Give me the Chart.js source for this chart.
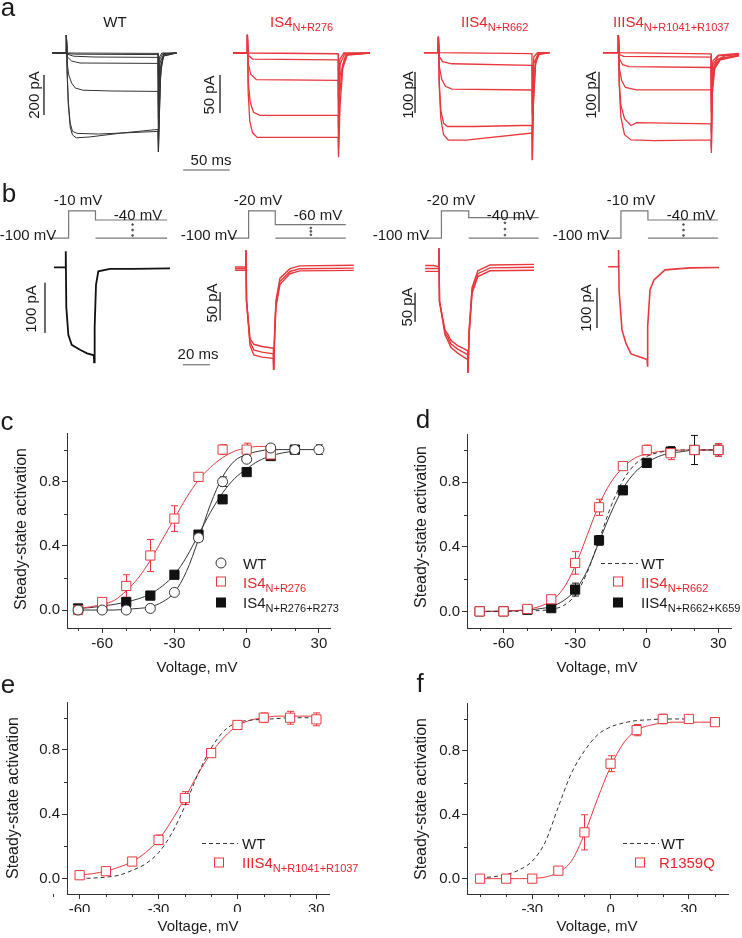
<!DOCTYPE html>
<html>
<head>
<meta charset="utf-8">
<script src="https://cdn.jsdelivr.net/npm/chart.js@4.4.1/dist/chart.umd.min.js"></script>
<style>
body { margin: 0; background: #fff; }
#fig { position: relative; width: 742px; height: 938px; overflow: hidden; font-family: 'Liberation Sans', Arial, sans-serif; }
#fig canvas { position: absolute; }
.t { position: absolute; white-space: nowrap; line-height: 1; }
.t sub { font-size: 11px; vertical-align: baseline; position: relative; top: 4px; }
svg { position: absolute; left: 0; top: 0; }
</style>
</head>
<body>
<div id="fig"></div>
<script>
// ---------- panel a: current traces, [ms, pA] ----------
const aWT = [
  [[-15,0],[0,0],[0.4,90],[1.2,0],[99,-2],[99.4,-120],[100.5,-20],[103,0],[119,0]],
  [[-15,0],[0,0],[0.4,90],[1.2,-3],[10,-6],[99,-8],[99.4,-200],[101,-30],[104,-3],[119,0]],
  [[-15,0],[0,0],[0.4,90],[1.2,-5],[8,-16],[30,-20],[99,-22],[99.4,-260],[101,-50],[105,-5],[119,0]],
  [[-15,0],[0,0],[0.4,90],[1.5,-20],[6,-40],[15,-50],[99,-52],[99.4,-330],[101,-80],[105,-8],[119,0]],
  [[-15,0],[0,0],[0.4,90],[1.5,-60],[3,-110],[6,-150],[10,-175],[18,-186],[50,-190],[99,-192],[99.4,-440],[101,-150],[104,-20],[108,-3],[119,0]],
  [[-15,0],[0,0],[0.4,90],[1.2,-100],[2.5,-260],[4.5,-370],[7,-410],[11,-424],[25,-420],[60,-400],[99,-382],[99.4,-495],[100.5,-300],[102,-80],[105,-15],[119,0]],
  [[-15,0],[0,0],[0.4,90],[1.2,-90],[2.5,-240],[4.5,-350],[7,-392],[12,-402],[35,-405],[70,-398],[99,-392],[99.4,-495],[100.5,-300],[102,-80],[105,-15],[119,0]]
];
const aIS4 = [
  [[-15,0],[0,0],[0.4,24],[1.2,0],[98,-1],[98.4,-60],[100,-8],[104,0],[132,0]],
  [[-15,0],[0,0],[0.4,24],[1.2,-3],[6,-8],[98,-9],[98.4,-80],[100,-15],[105,-1],[132,0]],
  [[-15,0],[0,0],[0.4,24],[1.5,-15],[4,-28],[10,-35],[98,-36],[98.4,-100],[100,-30],[106,-3],[132,0]],
  [[-15,0],[0,0],[0.4,24],[1.5,-40],[3.5,-65],[7,-78],[14,-82],[98,-82],[98.4,-125],[100,-50],[103,-15],[107,-2],[132,0]],
  [[-15,0],[0,0],[0.4,24],[1.2,-50],[3,-90],[6,-105],[11,-111],[98,-111],[98.4,-137],[100,-70],[103,-20],[108,-2],[132,0]]
];
const aIIS4 = [
  [[-15,0],[0,0],[0.4,39],[1.2,0],[101,-2],[101.4,-100],[103,-10],[107,0],[120,0]],
  [[-15,0],[0,0],[0.4,39],[1.5,-10],[5,-22],[15,-27],[101,-31],[101.4,-150],[103,-25],[108,-2],[120,0]],
  [[-15,0],[0,0],[0.4,39],[1.5,-35],[4,-65],[8,-82],[15,-89],[101,-91],[101.4,-200],[103,-50],[107,-5],[120,0]],
  [[-15,0],[0,0],[0.4,39],[1.3,-70],[3,-140],[6,-172],[10,-180],[40,-180],[101,-177],[101.4,-261],[102.5,-120],[105,-20],[109,-2],[120,0]],
  [[-15,0],[0,0],[0.4,39],[1.3,-80],[3,-160],[6,-200],[11,-213],[30,-213],[101,-196],[101.4,-262],[102.5,-130],[105,-25],[109,-2],[120,0]]
];
const aIIIS4 = [
  [[-16,0],[0,0],[0.4,44],[1.2,0],[100,-3],[100.4,-90],[102,-20],[108,-6],[130,-2]],
  [[-16,0],[0,0],[0.4,44],[1.2,-4],[6,-9],[100,-11],[100.4,-110],[102,-30],[108,-8],[130,-3]],
  [[-16,0],[0,0],[0.4,44],[1.5,-15],[5,-30],[12,-35],[100,-37],[100.4,-150],[102,-45],[106,-18],[115,-8],[130,-4]],
  [[-16,0],[0,0],[0.4,44],[1.5,-40],[4,-70],[8,-87],[20,-93],[100,-93],[100.4,-200],[101.5,-70],[104,-30],[110,-14],[130,-6]],
  [[-16,0],[0,0],[0.4,44],[1.3,-70],[3,-130],[7,-165],[14,-182],[20,-175],[100,-178],[100.4,-240],[101.5,-90],[104,-35],[110,-16],[130,-7]],
  [[-16,0],[0,0],[0.4,44],[1.3,-80],[3,-160],[7,-205],[14,-218],[40,-220],[100,-218],[100.4,-251],[101.5,-100],[104,-40],[110,-18],[130,-8]]
];
// scale bars [ms, pA]
const aBarWT = [[-23.7,-110],[-23.7,-310]];
const aBarIS4 = [[-29,-29],[-29,-79]];
const aBarIIS4 = [[-24.7,-47],[-24.7,-147]];
const aBarIIIS4 = [[-20.4,-48],[-20.4,-148]];
const aTimeBar = [[126,-585],[176,-585]];

// ---------- panel b: protocols [ms, mV] and currents [ms, pA] ----------
const protoWT = [[-15,-100],[0,-100],[0,-10],[21,-10],[21,-40],[77,-40]];
const protoIS4 = [[-15,-100],[0,-100],[0,-20],[21,-20],[21,-60],[76.5,-60]];
const protoIIS4 = [[-15,-100],[0,-100],[0,-20],[21.5,-20],[21.5,-40],[76.5,-40]];
const protoIIIS4 = [[-15,-100],[0,-100],[0,-10],[21.3,-10],[21.3,-40],[76.5,-40]];
const protoLowWT = [[21,-100],[77,-100]];
const protoLowIS4 = [[21,-100],[76.5,-100]];
const protoLowIIS4 = [[21.5,-100],[76.5,-100]];
const protoLowIIIS4 = [[21.3,-100],[76.5,-100]];
const dotsWT = [[50,-55],[50,-73],[50,-91]];
const dotsIS4 = [[49,-70],[49,-80],[49,-90]];
const dotsIIS4 = [[50,-55],[50,-73],[50,-91]];
const dotsIIIS4 = [[49.4,-55],[49.4,-73],[49.4,-91]];

const bWT = [[[-8.5,0],[0,0],[0.2,32],[0.6,-80],[2.1,-135],[4.6,-155],[10.7,-165],[16,-172],[21,-176],[21.2,-190],[21.6,-120],[22.6,-35],[24.3,-8],[33,-3],[50,-3],[77.4,-2]]];
const bIS4 = [
  [[-8,0],[0,0],[0.2,30],[0.6,-60],[3.2,-128],[6,-138],[12,-142],[20.5,-145],[20.7,-184],[21.5,-110],[22.4,-60],[25.4,-20],[32.8,-3],[40,2],[80,3]],
  [[-8,-3],[0,-3],[0.2,30],[0.6,-60],[3.2,-134],[6,-148],[12,-152],[20.5,-155],[20.7,-184],[21.5,-115],[22.4,-66],[25.4,-26],[32.8,-8],[40,-3],[80,-2]],
  [[-8,-6],[0,-6],[0.2,30],[0.6,-60],[3.2,-140],[6,-157],[12,-161],[20.5,-163],[20.7,-184],[21.5,-120],[22.4,-72],[25.4,-31],[32.8,-12],[40,-7],[80,-6]]
];
const bIIS4 = [
  [[-10,2],[-4,2],[0,0],[0.2,32],[0.6,-60],[4.7,-110],[6.7,-116],[9,-127],[14,-136],[20,-143],[21.5,-145],[21.7,-183],[22.5,-110],[24.7,-36],[29,-7],[38,3],[70.6,4]],
  [[-10,-3],[-4,-3],[0,-3],[0.2,32],[0.6,-60],[4.7,-114],[6.7,-121],[9,-133],[14,-142],[20,-150],[21.5,-152],[21.7,-183],[22.5,-115],[24.7,-41],[29,-12],[38,-2],[70.6,-1]],
  [[-10,-8],[-4,-8],[0,-8],[0.2,32],[0.6,-60],[4.7,-118],[6.7,-127],[9,-139],[14,-149],[20,-158],[21.5,-160],[21.7,-183],[22.5,-120],[24.7,-46],[29,-17],[38,-7],[70.6,-6]]
];
const bIIIS4 = [[[-7.5,0],[0,0],[0.2,42],[0.6,-60],[2.7,-158],[5.7,-192],[9.4,-218],[16,-226],[21.3,-232],[21.5,-250],[22,-150],[23.5,-58],[26.4,-33],[34.6,-8],[53,-3],[74.6,-2]]];
const bBarWT = [[-15.2,-31],[-15.2,-131]];
const bBarIS4 = [[-18.9,-45],[-18.9,-95]];
const bBarIIS4 = [[-17.5,-45],[-17.5,-95]];
const bBarIIIS4 = [[-15.8,-53],[-15.8,-153]];
const bTimeBar = [[87,-195],[107,-195]];

// ---------- panels c-f: steady-state activation ----------
const cVolt = [-70,-60,-50,-40,-30,-20,-10,0,10,20,30];
const cWT = [0.0,0.0,0.0,0.01,0.11,0.45,0.80,0.94,1.01,1.0,1.0];
const cWTErr = [0.01,0.01,0.01,0.01,0.02,0.02,0.03,0.02,0.02,0.02,0.03];
const cR276 = [0.0,0.05,0.15,0.34,0.57,0.83,1.0,1.0,0.97];
const cR276Err = [0.01,0.02,0.07,0.10,0.08,0.02,0.03,0.04,0.03];
const cR273 = [0.01,0.02,0.05,0.09,0.22,0.47,0.69,0.86,0.96,1.0];
const cR273Err = [0.01,0.01,0.01,0.01,0.01,0.02,0.02,0.01,0.02,0.02];
const cFitV = [-70,-65,-60,-55,-50,-45,-40,-35,-30,-25,-20,-15,-10,-5,0,5,10,15,20,25,30];
const cFitWT = [0.0,0.0,0.0,0.0,0.005,0.01,0.02,0.05,0.11,0.24,0.44,0.66,0.83,0.93,0.97,0.99,1.0,1.0,1.0,1.0,1.0];
const cFitR276 = [0.01,0.02,0.035,0.06,0.12,0.20,0.31,0.44,0.57,0.70,0.81,0.89,0.95,0.99,1.01,1.02,1.02];
const cFitR273 = [0.01,0.015,0.025,0.035,0.05,0.07,0.10,0.15,0.22,0.33,0.47,0.61,0.73,0.82,0.88,0.93,0.96,0.98,0.99];

const dVolt = [-70,-60,-50,-40,-30,-20,-10,0,10,20,30];
const dR662 = [0.0,0.0,0.015,0.075,0.30,0.645,0.90,1.0,0.98,1.0,1.0];
const dR662Err = [0.01,0.01,0.01,0.02,0.07,0.05,0.02,0.03,0.04,0.02,0.04];
const dK659 = [0.0,0.0,0.01,0.02,0.135,0.44,0.75,0.92,0.99,1.0,1.0];
const dK659Err = [0.01,0.01,0.01,0.02,0.04,0.03,0.02,0.02,0.03,0.09,0.03];
const dFitV = [-70,-65,-60,-55,-50,-45,-40,-35,-30,-25,-20,-15,-10,-5,0,5,10,15,20,25,30];
const dFitWT = [0.0,0.0,0.0,0.0,0.002,0.005,0.012,0.035,0.10,0.24,0.44,0.65,0.81,0.91,0.96,0.985,0.995,1.0,1.0,1.0,1.0];
const dFitK659 = [0.0,0.0,0.002,0.004,0.008,0.016,0.03,0.065,0.13,0.25,0.43,0.61,0.76,0.86,0.92,0.96,0.98,0.99,1.0,1.0,1.0];
const dFitR662 = [0.0,0.0,0.002,0.005,0.012,0.03,0.065,0.14,0.28,0.47,0.66,0.80,0.89,0.95,0.975,0.99,0.995,1.0,1.0,1.0,1.0];

const eVolt = [-60,-50,-40,-30,-20,-10,0,10,20,30];
const eR1037 = [0.02,0.045,0.105,0.24,0.50,0.78,0.955,1.0,1.0,0.99];
const eR1037Err = [0.01,0.01,0.01,0.03,0.04,0.02,0.01,0.03,0.04,0.04];
const eFitV = [-60,-55,-50,-45,-40,-35,-30,-25,-20,-15,-10,-5,0,5,10,15,20,25,30];
const eFitR = [0.02,0.03,0.045,0.07,0.105,0.16,0.24,0.36,0.50,0.65,0.78,0.88,0.95,0.985,1.0,1.01,1.01,1.01,1.01];
const eFitWT = [0.0,0.002,0.008,0.02,0.05,0.09,0.16,0.28,0.45,0.65,0.81,0.92,0.97,0.985,0.99,0.995,1.0,1.0,1.0];

const fVolt = [-50,-40,-30,-20,-10,0,10,20,30,40];
const fR1359Q = [0.0,0.0,0.0,0.05,0.29,0.72,0.93,1.0,1.0,0.98];
const fR1359QErr = [0.01,0.01,0.01,0.01,0.11,0.05,0.035,0.03,0.02,0.02];
const fFitV = [-50,-45,-40,-35,-30,-25,-20,-15,-10,-5,0,5,10,15,20,25,30,35,40];
const fFitR = [0.0,0.0,0.0,0.0,0.002,0.01,0.04,0.11,0.28,0.50,0.70,0.85,0.93,0.96,0.975,0.98,0.98,0.98,0.98];
const fFitWT = [0.005,0.012,0.025,0.055,0.11,0.23,0.45,0.66,0.80,0.90,0.95,0.975,0.99,0.995,1.0,1.0,1.0];

const xMinorCDE = [-70,-50,-40,-20,-10,10,20];
const xMinorF = [-50,-40,-20,-10,10,20,40];
const yMinor = [0.2,0.6,1.0];

// ---------- drawing ----------
const FONT = "'Liberation Sans', Arial, sans-serif";
const RED = '#e8383d', REDTXT = '#e8262d', INK = '#1a1a1a', AX = '#333';
const fig = document.getElementById('fig');

function canvasAt(l, t, w, h) {
  const c = document.createElement('canvas');
  c.width = w; c.height = h;
  c.style.left = l + 'px'; c.style.top = t + 'px';
  fig.appendChild(c);
  return c;
}

function txt(html, x, y, o = {}) {
  const d = document.createElement('div');
  d.className = 't';
  d.innerHTML = html;
  d.style.left = x + 'px';
  d.style.top = y + 'px';
  d.style.fontSize = (o.size || 15) + 'px';
  d.style.color = o.color || INK;
  d.style.transform = 'translate(' + (o.left ? '0' : '-50%') + ',-50%)' + (o.rot ? ' rotate(-90deg)' : '');
  fig.appendChild(d);
}

const xy = arr => arr.map(p => ({ x: p[0], y: p[1] }));
const pts = (xs, ys) => ys.map((v, i) => ({ x: xs[i], y: v }));

// box: [left, top, width, height]; map: t/v reference value + pixel, px per unit
function traceChart(box, map, sets) {
  const [L, T, W, H] = box;
  new Chart(canvasAt(L, T, W, H), {
    type: 'scatter',
    data: {
      datasets: sets.map(s => ({
        data: xy(s.pts), showLine: !s.dots, borderColor: s.color, backgroundColor: s.color,
        borderWidth: s.w || 1, pointRadius: s.dots ? 0.9 : 0, tension: 0
      }))
    },
    options: {
      responsive: false, animation: false, events: [],
      layout: { padding: 0 },
      plugins: { legend: { display: false }, tooltip: { enabled: false } },
      scales: {
        x: { type: 'linear', display: false, min: map.t[0] + (L - map.t[1]) / map.sx, max: map.t[0] + (L + W - map.t[1]) / map.sx },
        y: { type: 'linear', display: false, min: map.v[0] + (map.v[1] - T - H) / map.sy, max: map.v[0] + (map.v[1] - T) / map.sy }
      }
    }
  });
}

const traces = (list, color, w) => list.map(p => ({ pts: p, color, w }));

// panel a
traceChart([20, 25, 220, 155], { t: [0, 66], v: [0, 53], sx: 0.93, sy: 0.2 },
  [...traces(aWT, '#333', 1), { pts: aBarWT, color: '#555' }, { pts: aTimeBar, color: '#555' }]);
traceChart([200, 25, 180, 140], { t: [0, 247], v: [0, 53], sx: 0.93, sy: 0.76 },
  [...traces(aIS4, RED, 1.3), { pts: aBarIS4, color: '#555' }]);
traceChart([400, 25, 160, 140], { t: [0, 438], v: [0, 52.7], sx: 0.93, sy: 0.41 },
  [...traces(aIIS4, RED, 1.3), { pts: aBarIIS4, color: '#555' }]);
traceChart([580, 25, 162, 140], { t: [0, 618], v: [0, 52.7], sx: 0.93, sy: 0.4 },
  [...traces(aIIIS4, RED, 1.3), { pts: aBarIIIS4, color: '#555' }]);

// panel b protocols
const proto = (p, low, dots) => [
  { pts: p, color: '#777', w: 1.2 }, { pts: low, color: '#777', w: 1.2 }, { pts: dots, color: '#555', dots: true }
];
traceChart([30, 195, 190, 55], { t: [0, 65.5], v: [-100, 241.7], sx: 1.35, sy: 0.371 }, proto(protoWT, protoLowWT, dotsWT));
traceChart([210, 195, 170, 55], { t: [0, 245.7], v: [-100, 241.7], sx: 1.35, sy: 0.4175 }, proto(protoIS4, protoLowIS4, dotsIS4));
traceChart([400, 195, 170, 55], { t: [0, 438.7], v: [-100, 241.7], sx: 1.35, sy: 0.4175 }, proto(protoIIS4, protoLowIIS4, dotsIIS4));
traceChart([580, 195, 162, 55], { t: [0, 618.3], v: [-100, 241.7], sx: 1.35, sy: 0.371 }, proto(protoIIIS4, protoLowIIIS4, dotsIIIS4));

// panel b currents
traceChart([30, 240, 190, 135], { t: [0, 65.5], v: [0, 267.3], sx: 1.35, sy: 0.5 },
  [...traces(bWT, '#111', 1.8), { pts: bBarWT, color: '#555' }, { pts: bTimeBar, color: '#555' }]);
traceChart([200, 240, 160, 140], { t: [0, 245.7], v: [0, 267], sx: 1.35, sy: 0.56 },
  [...traces(bIS4, RED, 1.4), { pts: bBarIS4, color: '#555' }]);
traceChart([400, 240, 150, 140], { t: [0, 438.7], v: [0, 266.7], sx: 1.35, sy: 0.58 },
  [...traces(bIIS4, RED, 1.4), { pts: bBarIIS4, color: '#555' }]);
traceChart([580, 240, 160, 140], { t: [0, 618.3], v: [0, 266.7], sx: 1.35, sy: 0.4 },
  [...traces(bIIIS4, RED, 1.6), { pts: bBarIIIS4, color: '#555' }]);

// activation plots
const errorBars = {
  id: 'errorBars',
  beforeDatasetsDraw(chart) {
    const { ctx, scales: { y } } = chart;
    chart.data.datasets.forEach((ds, i) => {
      if (!ds.err) return;
      const meta = chart.getDatasetMeta(i);
      ctx.save();
      ctx.strokeStyle = ds.borderColor;
      ctx.lineWidth = 1;
      ctx.beginPath();
      meta.data.forEach((pt, j) => {
        const v = ds.data[j].y, e = ds.err[j];
        const y1 = y.getPixelForValue(v + e), y2 = y.getPixelForValue(v - e);
        const x = Math.round(pt.x) + 0.5;
        ctx.moveTo(x, y1); ctx.lineTo(x, y2);
        ctx.moveTo(x - 3.5, y1); ctx.lineTo(x + 3.5, y1);
        ctx.moveTo(x - 3.5, y2); ctx.lineTo(x + 3.5, y2);
      });
      ctx.stroke();
      ctx.restore();
    });
  }
};
const minorTicks = {
  id: 'minorTicks',
  afterDraw(chart, args, opts) {
    const { ctx, chartArea: a, scales: { x, y } } = chart;
    ctx.save();
    ctx.strokeStyle = AX; ctx.lineWidth = 1;
    ctx.beginPath();
    (opts.x || []).forEach(v => { const p = Math.round(x.getPixelForValue(v)) + 0.5; ctx.moveTo(p, a.bottom); ctx.lineTo(p, a.bottom + 3); });
    (opts.y || []).forEach(v => { const p = Math.round(y.getPixelForValue(v)) + 0.5; ctx.moveTo(a.left, p); ctx.lineTo(a.left - 3, p); });
    ctx.stroke();
    ctx.restore();
  }
};

const markers = (xs, ys, err, style, color, fill, r) => ({
  data: pts(xs, ys), err, showLine: false, pointStyle: style, pointRadius: r,
  borderColor: color, backgroundColor: fill, borderWidth: 1, order: 1
});
const fit = (xs, ys, color, dash) => ({
  data: pts(xs, ys), showLine: true, pointRadius: 0, borderColor: color, borderWidth: 1,
  borderDash: dash || [], cubicInterpolationMode: 'monotone', order: 2
});

function actChart(box, area, xr, yr, xMinor, sets) {
  const [L, T, W, H] = box;
  const axis = {
    grid: { drawOnChartArea: false, drawTicks: true, tickLength: 5, tickColor: AX, color: AX },
    border: { display: true, color: AX, width: 1 }
  };
  new Chart(canvasAt(L, T, W, H), {
    type: 'scatter',
    data: { datasets: sets },
    options: {
      responsive: false, animation: false, events: [],
      layout: { padding: { left: 0, top: area[1] - T, right: L + W - area[2], bottom: 0 } },
      plugins: { legend: { display: false }, tooltip: { enabled: false }, minorTicks: { x: xMinor, y: yMinor } },
      scales: {
        x: {
          type: 'linear', min: xr[0], max: xr[1], ...axis,
          afterFit: s => { s.height = T + H - area[3]; },
          ticks: { stepSize: 30, includeBounds: false, color: INK, padding: 2, maxRotation: 0, font: { family: FONT, size: 15 }, callback: v => String(v) }
        },
        y: {
          type: 'linear', min: yr[0], max: yr[1], ...axis,
          afterFit: s => { s.width = area[0] - L; },
          ticks: { stepSize: 0.4, includeBounds: false, color: INK, padding: 2, font: { family: FONT, size: 15 }, callback: v => v.toFixed(1) }
        }
      }
    },
    plugins: [errorBars, minorTicks]
  });
}

// c
actChart([0, 410, 345, 250], [67, 433, 330, 628], [-74.6, 34.6], [-0.112, 1.1035], xMinorCDE, [
  markers(cVolt, cWT, cWTErr, 'circle', '#333', '#fff', 5),
  markers(cVolt, cR276, cR276Err, 'rect', RED, '#fff', 6.5),
  markers(cVolt, cR273, cR273Err, 'rect', '#111', '#111', 6.5),
  fit(cFitV, cFitWT, '#333'),
  fit(cFitV, cFitR276, RED),
  fit(cFitV, cFitR273, '#333')
]);
// d
actChart([400, 410, 342, 250], [467, 434, 731, 628], [-75.3, 35.3], [-0.103, 1.099], xMinorCDE, [
  markers(dVolt, dR662, dR662Err, 'rect', RED, '#fff', 6.5),
  markers(dVolt, dK659, dK659Err, 'rect', '#111', '#111', 6.5),
  fit(dFitV, dFitWT, '#333', [4, 3]),
  fit(dFitV, dFitR662, RED),
  fit(dFitV, dFitK659, '#333')
]);
// e
actChart([0, 680, 345, 232], [67, 702, 329, 894], [-64.8, 34.8], [-0.097, 1.098], xMinorCDE, [
  markers(eVolt, eR1037, eR1037Err, 'rect', RED, '#fff', 6.5),
  fit(eFitV, eFitWT, '#333', [4, 3]),
  fit(eFitV, eFitR, RED)
]);
// f
actChart([400, 680, 342, 232], [467, 703, 728, 894], [-55, 45], [-0.096, 1.1], xMinorF, [
  markers(fVolt, fR1359Q, fR1359QErr, 'rect', RED, '#fff', 6.5),
  fit(fFitV, fFitWT, '#333', [4, 3]),
  fit(fFitV, fFitR, RED)
]);

// ---------- legend symbols ----------
const sq = (x, y, stroke, fill) => `<rect x="${x - 4.5}" y="${y - 4.5}" width="9" height="9" stroke="${stroke}" fill="${fill}" stroke-width="1"/>`;
const dash = (x1, x2, y) => `<line x1="${x1}" x2="${x2}" y1="${y}" y2="${y}" stroke="#333" stroke-width="1" stroke-dasharray="4 3"/>`;
fig.insertAdjacentHTML('beforeend', `<svg width="742" height="938">
  <circle cx="221" cy="563" r="5" stroke="#333" fill="#fff" stroke-width="1"/>
  ${sq(221, 581.5, RED, '#fff')}${sq(221, 602.5, '#111', '#111')}
  ${dash(601, 638, 563.5)}${sq(618, 581.5, RED, '#fff')}${sq(618, 602.5, '#111', '#111')}
  ${dash(202, 238, 843.5)}${sq(219, 862.5, RED, '#fff')}
  ${dash(623, 659, 843.5)}${sq(640, 862.5, RED, '#fff')}
</svg>`);

// ---------- text ----------
txt('a', 8, 7, { size: 26 });
txt('b', 9, 193, { size: 26 });
txt('c', 7, 421, { size: 26 });
txt('d', 423, 419, { size: 26 });
txt('e', 8, 684, { size: 26 });
txt('f', 420, 683, { size: 26 });

txt('WT', 115, 21);
txt('IS4<sub>N+R276</sub>', 270, 21, { left: true, color: REDTXT });
txt('IIS4<sub>N+R662</sub>', 461, 21, { left: true, color: REDTXT });
txt('IIIS4<sub>N+R1041+R1037</sub>', 613, 21, { left: true, color: REDTXT });

txt('200 pA', 33, 95, { rot: true });
txt('50 pA', 208, 95, { rot: true });
txt('100 pA', 407, 95, { rot: true });
txt('100 pA', 590, 95, { rot: true });
txt('50 ms', 211, 159);

txt('-10 mV', 78, 199); txt('-40 mV', 138, 214); txt('-100 mV', 28, 234);
txt('-20 mV', 258, 199); txt('-60 mV', 318, 214); txt('-100 mV', 209, 234);
txt('-20 mV', 451, 199); txt('-40 mV', 511, 214); txt('-100 mV', 401, 234);
txt('-10 mV', 631, 199); txt('-40 mV', 691, 214); txt('-100 mV', 581, 234);

txt('100 pA', 30, 309, { rot: true });
txt('50 pA', 211, 303, { rot: true });
txt('50 pA', 406, 307, { rot: true });
txt('100 pA', 585, 308, { rot: true });
txt('20 ms', 198, 353);

txt('Steady-state activation', 21, 529, { rot: true, size: 16 });
txt('Voltage, mV', 197, 666);
txt('Steady-state activation', 421, 527, { rot: true, size: 16 });
txt('Voltage, mV', 597, 666);
txt('Steady-state activation', 13, 798, { rot: true, size: 16 });
txt('Voltage, mV', 198, 925);
txt('Steady-state activation', 421, 799, { rot: true, size: 16 });
txt('Voltage, mV', 597, 925);

txt('WT', 243, 563, { left: true });
txt('IS4<sub>N+R276</sub>', 243, 582, { left: true, color: REDTXT });
txt('IS4<sub>N+R276+R273</sub>', 243, 602, { left: true });
txt('WT', 641, 563, { left: true });
txt('IIS4<sub>N+R662</sub>', 641, 582, { left: true, color: REDTXT });
txt('IIS4<sub>N+R662+K659</sub>', 641, 602, { left: true });
txt('WT', 242, 843, { left: true });
txt('IIIS4<sub>N+R1041+R1037</sub>', 242, 862, { left: true, color: REDTXT });
txt('WT', 661, 843, { left: true });
txt('R1359Q', 659, 862, { left: true, color: REDTXT });
</script>
</body>
</html>
